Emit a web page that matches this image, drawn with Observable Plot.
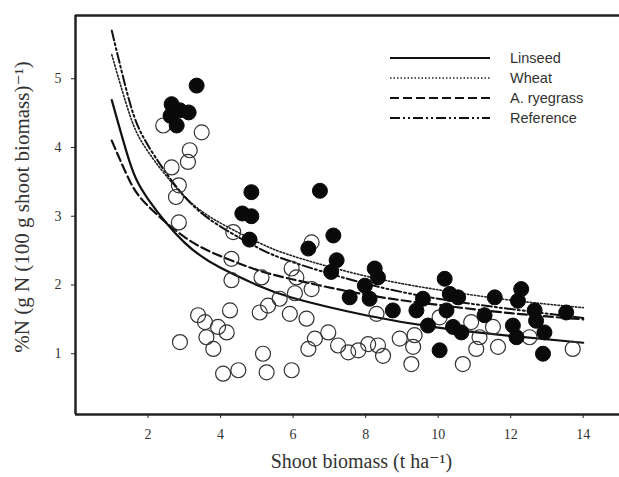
<!DOCTYPE html>
<html>
<head>
<meta charset="utf-8">
<script src="https://cdn.jsdelivr.net/npm/d3@7"></script>
<script src="https://cdn.jsdelivr.net/npm/@observablehq/plot@0.6"></script>
<style>
  html, body { margin: 0; padding: 0; background: #fff; }
  #chart { width: 619px; height: 477px; }
</style>
</head>
<body>
<div id="chart"></div>
<script>
// Curve values (t/ha -> %N)
const curveX = [1, 1.5, 2, 3, 4, 5, 6, 8, 10, 12, 14];
const linseedY   = [4.69, 3.78, 3.25, 2.62, 2.25, 2.00, 1.81, 1.56, 1.38, 1.26, 1.16];
const wheatY     = [5.35, 4.47, 3.94, 3.29, 2.90, 2.63, 2.42, 2.13, 1.93, 1.78, 1.67];
const ryegrassY  = [4.10, 3.51, 3.15, 2.70, 2.42, 2.22, 2.08, 1.86, 1.71, 1.59, 1.50];
const referenceY = [5.70, 4.65, 4.03, 3.29, 2.85, 2.55, 2.33, 2.02, 1.80, 1.65, 1.52];

const seriesNames = ["Linseed", "Wheat", "A. ryegrass", "Reference"];

// Filled circles
const filledX = [3.34, 2.65, 2.88, 3.12, 2.62, 2.79, 2.70, 4.85, 4.60, 4.85, 4.80,
  6.74, 7.11, 6.42, 7.20, 7.05, 8.25, 8.34, 7.98, 7.56, 8.11, 8.75, 9.40, 9.58, 9.72,
  10.04, 10.18, 10.32, 10.23, 10.41, 10.55, 11.56, 12.29, 12.20, 12.66, 12.70, 13.53,
  11.28, 12.06, 12.16, 12.93, 12.89, 10.64];
const filledY = [4.90, 4.63, 4.54, 4.51, 4.46, 4.32, 4.55, 3.35, 3.04, 3.00, 2.66,
  3.37, 2.72, 2.53, 2.36, 2.19, 2.24, 2.11, 1.99, 1.82, 1.80, 1.63, 1.63, 1.80, 1.41,
  1.05, 2.09, 1.87, 1.63, 1.39, 1.82, 1.82, 1.94, 1.77, 1.63, 1.48, 1.60,
  1.56, 1.41, 1.24, 1.31, 1.00, 1.31];

// Open circles
const openX = [2.42, 3.48, 3.15, 3.10, 2.65, 2.85, 2.77, 2.85,
  4.35, 4.30, 4.30, 5.96, 5.13, 4.26, 3.38, 3.57, 3.93, 4.17, 3.61, 2.88, 3.80, 5.08,
  5.31, 5.91, 5.17, 4.07, 4.49, 5.27, 5.96, 5.63, 6.05,
  6.51, 6.09, 6.51, 6.37, 8.30, 6.97, 6.60, 6.42, 7.24, 7.52, 7.80, 8.07, 8.34, 8.48,
  8.94, 9.35, 9.31, 9.26,
  10.91, 11.14, 11.51, 11.65, 11.05, 10.68, 13.71, 10.04, 12.52];
const openY = [4.32, 4.22, 3.96, 3.79, 3.71, 3.45, 3.28, 2.91,
  2.77, 2.38, 2.07, 2.24, 2.11, 1.63, 1.56, 1.46, 1.39, 1.31, 1.24, 1.17, 1.07, 1.60,
  1.70, 1.58, 1.00, 0.71, 0.76, 0.73, 0.76, 1.80, 1.88,
  2.62, 2.11, 1.94, 1.51, 1.58, 1.31, 1.22, 1.07, 1.12, 1.02, 1.05, 1.14, 1.12, 0.97,
  1.22, 1.27, 1.10, 0.85,
  1.46, 1.24, 1.39, 1.10, 1.07, 0.85, 1.07, 1.53, 1.24];

const xTicks = [2, 4, 6, 8, 10, 12, 14];
const yTicks = [1, 2, 3, 4, 5];

const lineStyles = [
  {stroke: "#111", strokeWidth: 2.2, dash: null},
  {stroke: "#222", strokeWidth: 1.6, dash: "1.5,2"},
  {stroke: "#111", strokeWidth: 2.2, dash: "9,4"},
  {stroke: "#111", strokeWidth: 2.0, dash: "10,3,2,3,2,3"}
];
const seriesYs = [linseedY, wheatY, ryegrassY, referenceY];

const openPts = openX.map((x, i) => ({x, y: openY[i]}));
const filledPts = filledX.map((x, i) => ({x, y: filledY[i]}));

const lineMarks = seriesYs.map((ys, k) => Plot.line(
  curveX.map((x, i) => ({x, y: ys[i]})),
  {x: "x", y: "y", curve: "natural", stroke: lineStyles[k].stroke,
   strokeWidth: lineStyles[k].strokeWidth, strokeDasharray: lineStyles[k].dash}
));

const yDomain = [0.116, 5.92];
const xDomain = [0, 15];

const svg = Plot.plot({
  width: 619,
  height: 477,
  marginLeft: 75,
  marginRight: 0,
  marginTop: 15,
  marginBottom: 63,
  style: {fontFamily: "'Liberation Serif', 'DejaVu Serif', serif", fontSize: "13px", color: "#333", background: "#fff"},
  x: {domain: xDomain},
  y: {domain: yDomain},
  marks: [
    Plot.axisX({ticks: xTicks, tickSize: 4, tickPadding: 11, tickFormat: "d", label: null, fontSize: 14, stroke: "#222"}),
    Plot.axisY({ticks: yTicks, tickSize: 4, tickPadding: 10, tickFormat: "d", label: null, fontSize: 14, stroke: "#222"}),
    ...lineMarks,
    Plot.dot(openPts, {x: "x", y: "y", r: 7.5, stroke: "#333", strokeWidth: 1.2, fill: "none"}),
    Plot.dot(filledPts, {x: "x", y: "y", r: 7.5, fill: "#0a0a0a", stroke: "#0a0a0a", strokeWidth: 1}),
    Plot.ruleX([xDomain[0]], {stroke: "#222", strokeWidth: 2.5}),
    Plot.ruleY(yDomain, {stroke: "#222", strokeWidth: 2.5}),
    Plot.text(["Shoot biomass (t ha⁻¹)"], {frameAnchor: "bottom", dy: 53, dx: 14, fontSize: 20, fill: "#333"}),
    Plot.text(["%N (g N (100 g shoot biomass)⁻¹)"], {frameAnchor: "left", rotate: -90, textAnchor: "middle", dx: -53, dy: -8, fontSize: 21, fill: "#333"})
  ]
});

document.getElementById("chart").appendChild(svg);

// Legend
const lg = d3.select(svg).append("g")
  .attr("font-family", "'Liberation Sans', Arial, sans-serif")
  .attr("font-size", 14.5)
  .attr("text-anchor", "start")
  .attr("fill", "#333");
seriesNames.forEach((name, k) => {
  const yy = 58 + k * 20;
  lg.append("line")
    .attr("x1", 390).attr("x2", 490).attr("y1", yy).attr("y2", yy)
    .attr("stroke", lineStyles[k].stroke)
    .attr("stroke-width", lineStyles[k].strokeWidth)
    .attr("stroke-dasharray", lineStyles[k].dash);
  lg.append("text")
    .attr("x", 510).attr("y", yy).attr("dy", "0.35em")
    .text(name);
});
</script>
</body>
</html>
